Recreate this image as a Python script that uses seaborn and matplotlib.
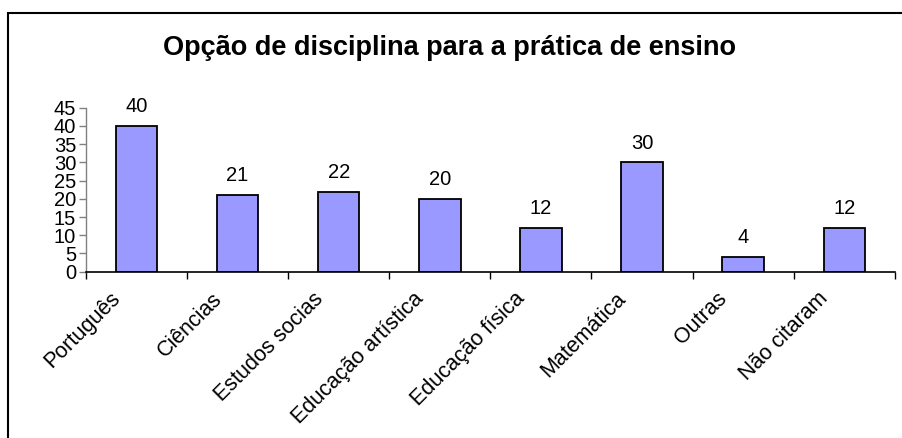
import matplotlib
matplotlib.use("Agg")
import matplotlib.pyplot as plt
import matplotlib.transforms as mtransforms
from matplotlib.patches import Rectangle
import seaborn as sns
import pandas as pd

disciplinas = ["Português", "Ciências", "Estudos socias", "Educação artística",
               "Educação física", "Matemática", "Outras", "Não citaram"]
valores = [40, 21, 22, 20, 12, 30, 4, 12]
y_ticks = [0, 5, 10, 15, 20, 25, 30, 35, 40, 45]

sns.set_theme(style="white")
plt.rcParams["font.family"] = ["Liberation Sans", "DejaVu Sans"]
plt.rcParams["text.color"] = "black"

df = pd.DataFrame({"disciplina": disciplinas, "valor": valores})

fig = plt.figure(figsize=(9.02, 4.38), dpi=100)
ax = fig.add_axes([0.0953, 0.3797, 0.8967, 0.3743])

sns.barplot(data=df, x="disciplina", y="valor", color="#9999FF", saturation=1,
            edgecolor="black", linewidth=1.3, width=0.41, ax=ax)

ax.bar_label(ax.containers[0], padding=7, fontsize=14.5, color="black")

ax.set_xlim(-0.5, len(disciplinas) - 0.5)
ax.set_ylim(0, 45)
ax.set_yticks(y_ticks)
ax.tick_params(axis="y", labelsize=14.5, length=5, width=1, color="#808080",
               left=True, pad=2, labelcolor="black")

# category boundaries as tick marks, labels at centres
ax.set_xticks(range(len(disciplinas)))
ax.set_xticklabels(disciplinas, rotation=45, ha="right", va="center",
                   rotation_mode="anchor", fontsize=15.5, color="black")
ax.set_xticks([i - 0.5 for i in range(len(disciplinas) + 1)], minor=True)
ax.tick_params(axis="x", which="major", length=0, pad=0)
ax.tick_params(axis="x", which="minor", length=5, width=1, color="black",
               bottom=True)
offset = mtransforms.ScaledTranslation(-19 / 100, -24 / 100, fig.dpi_scale_trans)
for lbl in ax.get_xticklabels():
    lbl.set_transform(lbl.get_transform() + offset)

ax.set_xlabel("")
ax.set_ylabel("")
for side in ["top", "right"]:
    ax.spines[side].set_visible(False)
ax.spines["left"].set_color("#808080")
ax.spines["left"].set_linewidth(1)
ax.spines["bottom"].set_color("black")
ax.spines["bottom"].set_linewidth(1.2)

fig.text(0.498, 0.89, "Opção de disciplina para a prática de ensino",
         ha="center", va="center", fontsize=19.5, fontweight="bold",
         color="black")

# chart frame
fig.patches.append(Rectangle((8 / 902, -0.1), 1.0, 1 - 13 / 438 + 0.1,
                             transform=fig.transFigure, fill=False,
                             edgecolor="black", linewidth=1.5))

fig.savefig("out.png", dpi=100)
